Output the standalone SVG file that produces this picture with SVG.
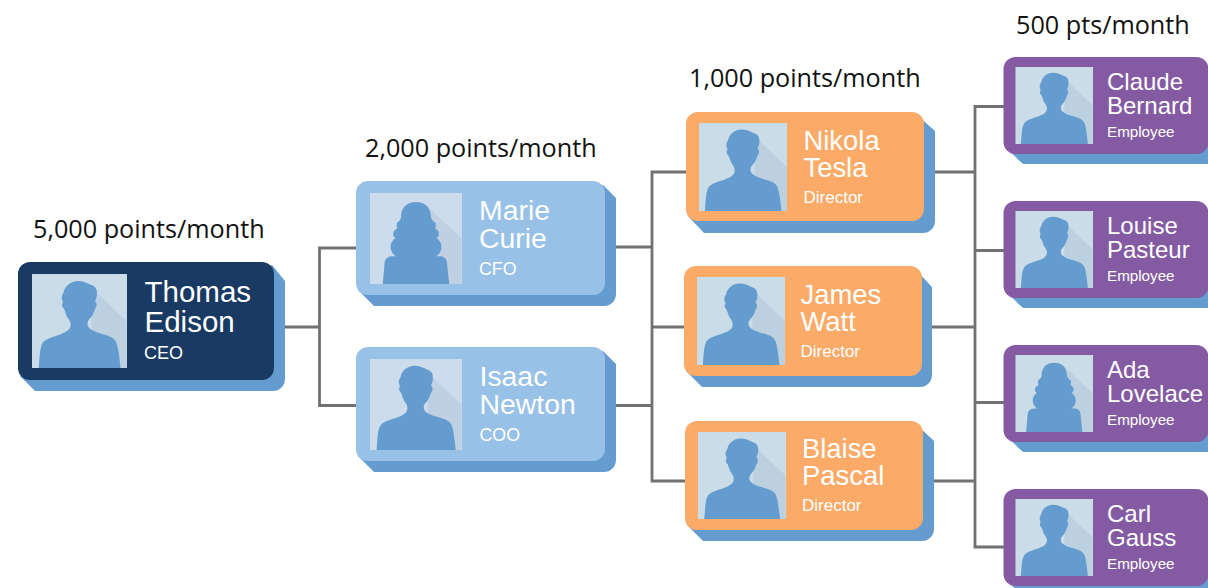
<svg xmlns="http://www.w3.org/2000/svg" width="1208" height="588" viewBox="0 0 1208 588">
<style>
.sh{fill:#659cd0}
.ceo{fill:#183a63}.cx{fill:#98c1e8}.dir{fill:#fbaa68}.emp{fill:#845ba3}
.ph{fill:#c9dce8}.cx-ph{fill:#ccdcec}
.n{font-family:"Liberation Sans",Arial,sans-serif;fill:#fff}
.lbl{font-family:"Open Sans",sans-serif;font-size:25.2px;fill:#111}
.cn{fill:none;stroke:#717174;stroke-width:2.8}
.t1{font-size:29.5px}.r1{font-size:18px}
.t2{font-size:28.4px}.r2{font-size:17.8px}
.t3{font-size:27.4px}.r3{font-size:17px}
.t4{font-size:24px}.r4{font-size:15.2px}
</style>
<defs>
<g id="fold"><path d="M63 15L100 50V100H63Z" fill="#8aa2bd" fill-opacity=".2"/></g>
<symbol id="male" viewBox="0 0 100 100">
<use href="#fold"/>
<path d="M6.700 100C7.500 88 8 77 11 73C14 68.500 22 67 30 64C38 61 41 58 40.500 53C40.500 50 38 48 36.500 45C35 41 34 38 33.500 37C31 35 30.800 32 32.500 30C30.500 27 30.500 23 33 20C34 13 41 7.500 48 7.500C54 7.500 58 9.500 62 11.500C66 12.500 68.500 15.500 68.500 19C69 24 67.500 27 66.500 29C69 31 68.500 35 66.500 37C65.500 41 63 46 60.500 48C58 51 58 54 59.500 56.500C62 60 68 62 73 63.500C80 65.500 86 67 88.500 71.500C91 76 92.500 88 93.700 100Z" fill="#659cd0"/>
</symbol>
<symbol id="female" viewBox="0 0 100 100">
<use href="#fold"/>
<path d="M13.500 100L15.500 76C16.500 71.500 20 69.500 24 69.500L28 69.500C24 67 22 63 22 59C22 55 24.500 51.500 27.500 49.500C25.500 48 24.500 46 25 44C25.500 41.500 27.500 40 29.500 39C28.500 37 28.500 34 29.500 32.500C31.500 31 33 30 33.500 27C33.500 16 40 10 50 10C60 10 66.500 16 66.500 27C67 30 69 31 71 32.500C72 34 72 37 71 39C73 40 75 41.500 75 44C75.500 46 74.500 48 72.500 49.500C75.500 51.500 78 55 78 59C78 63 76 67 72 69.500L76 69.500C80 69.500 83.500 71.500 84 76L86.500 100Z" fill="#659cd0"/>
</symbol>
</defs>
<g id="connectors" class="cn">
<path d="M285 327H319.500M356 248H319.500V405.500H356"/>
<path d="M616 247H652M616 405.500H652M686 172H652V481H685M652 327H684"/>
<path d="M935 172H975M932 327H975M934 481H975M1004 106.500H975V547H1004M975 250.500H1004M975 402.500H1004"/>
</g>
<g id="thomas-edison">
<path class="sh" d="M272 265L285 281V379A12 12 0 0 1 273 391H35L20 376Z"/>
<rect class="ceo" x="18" y="262" width="256" height="118" rx="12"/>
<rect class="ph" x="32" y="274" width="95" height="94"/>
<use href="#male" x="32" y="274" width="95" height="94"/>
<text class="n t1" x="144.500" y="302">Thomas</text><text class="n t1" x="144.500" y="332">Edison</text><text class="n r1" x="144" y="359">CEO</text>
</g>
<g id="marie-curie">
<path class="sh" d="M603 185L616 198V294A12 12 0 0 1 604 306H374L358 290Z"/>
<rect class="cx" x="356" y="181" width="249" height="114" rx="12"/>
<rect class="cx-ph" x="370" y="193" width="92" height="91"/>
<use href="#female" x="370" y="193" width="92" height="91"/>
<text class="n t2" x="479" y="220">Marie</text><text class="n t2" x="479" y="248">Curie</text><text class="n r2" x="479" y="275">CFO</text>
</g>
<g id="isaac-newton">
<path class="sh" d="M603 351L616 364V460A12 12 0 0 1 604 472H374L358 456Z"/>
<rect class="cx" x="356" y="347" width="249" height="114" rx="12"/>
<rect class="cx-ph" x="370" y="359" width="92" height="91"/>
<use href="#male" x="370" y="359" width="92" height="91"/>
<text class="n t2" x="479.500" y="386">Isaac</text><text class="n t2" x="479.500" y="414">Newton</text><text class="n r2" x="479.500" y="441">COO</text>
</g>
<g id="nikola-tesla">
<path class="sh" d="M918 116L935 131V221A12 12 0 0 1 923 233H704L688 216Z"/>
<rect class="dir" x="686" y="112" width="238" height="109" rx="12"/>
<rect class="ph" x="699" y="123" width="88" height="88"/>
<use href="#male" x="699" y="123" width="88" height="88"/>
<text class="n t3" x="803.500" y="150">Nikola</text><text class="n t3" x="803.500" y="177">Tesla</text><text class="n r3" x="803.500" y="203">Director</text>
</g>
<g id="james-watt">
<path class="sh" d="M916 270L932 287V375A12 12 0 0 1 920 387H702L686 371Z"/>
<rect class="dir" x="684" y="266" width="238" height="110" rx="12"/>
<rect class="ph" x="697" y="277" width="88" height="88"/>
<use href="#male" x="697" y="277" width="88" height="88"/>
<text class="n t3" x="800.500" y="304">James</text><text class="n t3" x="800.500" y="331">Watt</text><text class="n r3" x="800.500" y="357">Director</text>
</g>
<g id="blaise-pascal">
<path class="sh" d="M917 425L934 441V529A12 12 0 0 1 922 541H703L687 525Z"/>
<rect class="dir" x="685" y="421" width="238" height="109" rx="12"/>
<rect class="ph" x="698" y="432" width="88" height="87"/>
<use href="#male" x="698" y="432" width="88" height="87"/>
<text class="n t3" x="802" y="458">Blaise</text><text class="n t3" x="802" y="485">Pascal</text><text class="n r3" x="802" y="511">Director</text>
</g>
<g id="claude-bernard">
<path class="sh" d="M1006 148L1023 164H1208V100H1006Z"/>
<rect class="emp" x="1003.500" y="57" width="205" height="97" rx="12"/>
<rect class="ph" x="1015.500" y="67" width="77.500" height="77"/>
<use href="#male" x="1015.500" y="67" width="77.500" height="77"/>
<text class="n t4" x="1107" y="90">Claude</text><text class="n t4" x="1107" y="114">Bernard</text><text class="n r4" x="1107" y="136.500">Employee</text>
</g>
<g id="louis-pasteur">
<path class="sh" d="M1006 292L1023 308H1208V244H1006Z"/>
<rect class="emp" x="1003.500" y="201" width="205" height="97" rx="12"/>
<rect class="ph" x="1015.500" y="211" width="77.500" height="77"/>
<use href="#male" x="1015.500" y="211" width="77.500" height="77"/>
<text class="n t4" x="1107" y="234">Louise</text><text class="n t4" x="1107" y="258">Pasteur</text><text class="n r4" x="1107" y="280.500">Employee</text>
</g>
<g id="ada-lovelace">
<path class="sh" d="M1006 436L1023 452H1208V388H1006Z"/>
<rect class="emp" x="1003.500" y="345" width="205" height="97" rx="12"/>
<rect class="ph" x="1015.500" y="355" width="77.500" height="77"/>
<use href="#female" x="1015.500" y="355" width="77.500" height="77"/>
<text class="n t4" x="1107" y="378">Ada</text><text class="n t4" x="1107" y="402">Lovelace</text><text class="n r4" x="1107" y="424.500">Employee</text>
</g>
<g id="carl-gauss">
<path class="sh" d="M1006 580L1023 596H1208V532H1006Z"/>
<rect class="emp" x="1003.500" y="489" width="205" height="97" rx="12"/>
<rect class="ph" x="1015.500" y="499" width="77.500" height="77"/>
<use href="#male" x="1015.500" y="499" width="77.500" height="77"/>
<text class="n t4" x="1107" y="522">Carl</text><text class="n t4" x="1107" y="546">Gauss</text><text class="n r4" x="1107" y="568.500">Employee</text>
</g>
<g id="labels">
<text class="lbl" x="33" y="238">5,000 points/month</text>
<text class="lbl" x="365" y="157">2,000 points/month</text>
<text class="lbl" x="689" y="87">1,000 points/month</text>
<text class="lbl" x="1016" y="34">500 pts/month</text>
</g>
</svg>
